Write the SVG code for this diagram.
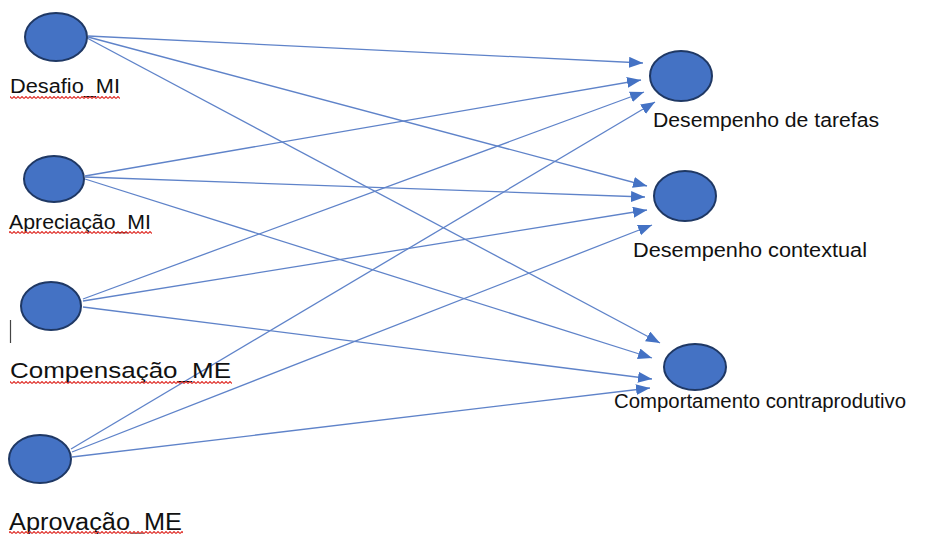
<svg xmlns="http://www.w3.org/2000/svg" width="927" height="534" viewBox="0 0 927 534">
<style>
.node{fill:#4472C4;stroke:#1F3864;stroke-width:2}
.lbl{font-family:"Liberation Sans",Arial,sans-serif;fill:#111111}
.edge{stroke:#5F83C9;stroke-width:1.3;fill:none;marker-end:url(#ah)}
</style>
<defs>
<marker id="ah" markerUnits="userSpaceOnUse" markerWidth="15" markerHeight="12" refX="14" refY="5.5" orient="auto">
<path d="M0,0 L14,5.5 L0,11 z" fill="#4472C4"/>
</marker>
<pattern id="sq" width="4" height="3" patternUnits="userSpaceOnUse">
<path d="M0,2.5 L2,0.5 L4,2.5" fill="none" stroke="#E0302A" stroke-width="1.1"/>
</pattern>
</defs>
<rect width="927" height="534" fill="#ffffff"/>
<g id="connectors">
<line class="edge" x1="88" y1="36" x2="643" y2="63"/>
<line class="edge" x1="88" y1="37" x2="647" y2="186"/>
<line class="edge" x1="87" y1="38" x2="660" y2="343"/>
<line class="edge" x1="85" y1="176" x2="641" y2="80"/>
<line class="edge" x1="85" y1="177" x2="645" y2="197"/>
<line class="edge" x1="85" y1="179" x2="652" y2="358"/>
<line class="edge" x1="83" y1="299" x2="644" y2="92"/>
<line class="edge" x1="83" y1="301" x2="647" y2="210"/>
<line class="edge" x1="83" y1="307" x2="652" y2="379"/>
<line class="edge" x1="71" y1="449" x2="655" y2="102"/>
<line class="edge" x1="72" y1="452" x2="652" y2="225"/>
<line class="edge" x1="72" y1="457" x2="650" y2="388"/>
</g>
<g id="desafio">
<ellipse class="node" cx="56" cy="37" rx="31" ry="24"/>
<text class="lbl" x="10" y="93" font-size="19.5" textLength="110" lengthAdjust="spacingAndGlyphs">Desafio_MI</text>
<rect x="10" y="96" width="110" height="3" fill="url(#sq)"/>
</g>
<g id="apreciacao">
<ellipse class="node" cx="54" cy="179" rx="30" ry="23"/>
<text class="lbl" x="9" y="229" font-size="19.5" textLength="142" lengthAdjust="spacingAndGlyphs">Apreciação_MI</text>
<rect x="9" y="231" width="143" height="3" fill="url(#sq)"/>
</g>
<g id="compensacao">
<ellipse class="node" cx="51" cy="306" rx="30" ry="24"/>
<line x1="10.5" y1="320" x2="10.5" y2="343" stroke="#444" stroke-width="1.2"/>
<text class="lbl" x="10" y="378" font-size="22" textLength="221" lengthAdjust="spacingAndGlyphs">Compensação_ME</text>
<rect x="10" y="381" width="222" height="3" fill="url(#sq)"/>
</g>
<g id="aprovacao">
<ellipse class="node" cx="40" cy="459" rx="31" ry="24"/>
<text class="lbl" x="9" y="530" font-size="23" textLength="173" lengthAdjust="spacingAndGlyphs">Aprovação_ME</text>
<rect x="9" y="531" width="174" height="3" fill="url(#sq)"/>
</g>
<g id="tarefas">
<ellipse class="node" cx="681" cy="76" rx="31" ry="25"/>
<text class="lbl" x="653" y="127" font-size="20" textLength="226" lengthAdjust="spacingAndGlyphs">Desempenho de tarefas</text>
</g>
<g id="contextual">
<ellipse class="node" cx="685" cy="196" rx="31" ry="25"/>
<text class="lbl" x="633" y="257" font-size="20" textLength="234" lengthAdjust="spacingAndGlyphs">Desempenho contextual</text>
</g>
<g id="contraprodutivo">
<ellipse class="node" cx="695" cy="367" rx="31" ry="23"/>
<text class="lbl" x="614" y="408" font-size="20" textLength="292" lengthAdjust="spacingAndGlyphs">Comportamento contraprodutivo</text>
</g>
</svg>
